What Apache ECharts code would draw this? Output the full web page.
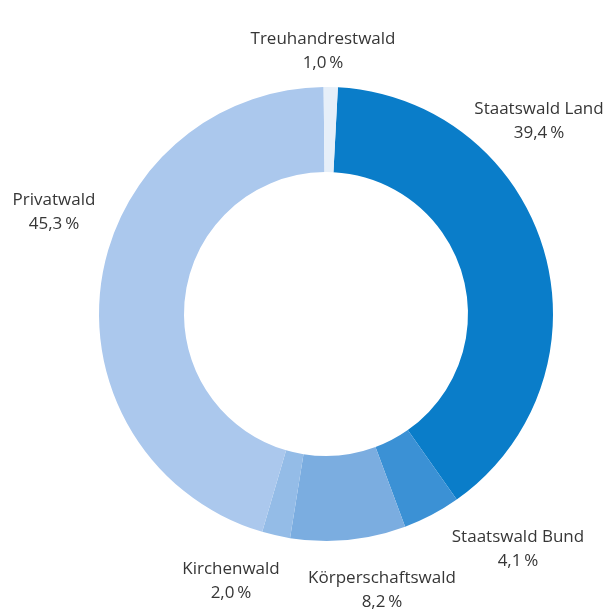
<!DOCTYPE html>
<html><head><meta charset="utf-8">
<script src="https://cdn.jsdelivr.net/npm/echarts@6/dist/echarts.min.js"></script>
<style>html,body{margin:0;padding:0;background:#fff}#c{width:612px;height:612px}</style>
</head><body><div id="c"></div>
<script>
const categories = ['Staatswald Land','Staatswald Bund','Körperschaftswald','Kirchenwald','Privatwald','Treuhandrestwald'];
const shares = [39.4, 4.1, 8.2, 2.0, 45.3, 1.0];
const colors = ['#0a7dc9','#3b91d5','#7badE0','#94bce7','#abc8ed','#e6eff9'];
// label anchor points (layout only)
const labelAnchors = [[539,121],[518,549],[382,590],[231,581],[54,212],[323,51]];

const chart = echarts.init(document.getElementById('c'));
chart.setOption({
  animation:false,
  series:[{
    type:'pie',
    center:[326,314],
    radius:[142,227],
    startAngle:87,
    clockwise:true,
    data: categories.map((n,i)=>({name:n, value:shares[i], itemStyle:{color:colors[i]}})),
    label:{
      show:true,
      position:'outside',
      formatter:p=>p.name+'\n'+p.value.toFixed(1).replace('.',',')+'\u2009%',
      fontFamily:'Open Sans',
      fontSize:17,
      lineHeight:24,
      color:'#363636',
      align:'center',
      overflow:'none',
      width:200
    },
    labelLine:{show:false},
    labelLayout:function(params){
      const a = labelAnchors[params.dataIndex];
      return {x:a[0], y:a[1], align:'center', verticalAlign:'middle'};
    },
    emphasis:{disabled:true}
  }]
});
</script></body></html>
